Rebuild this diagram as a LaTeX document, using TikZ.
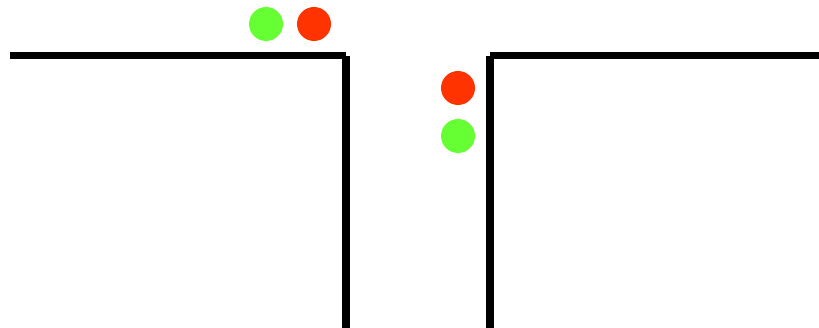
\documentclass[tikz,border=0pt]{standalone}
\usepackage{tikz}

\definecolor{lampgreen}{HTML}{66FF33}
\definecolor{lampred}{HTML}{FF3300}

\begin{document}
\begin{tikzpicture}[x=1pt, y=-1pt,
  wall/.style={line width=7.5pt, black},
  lamp/.style={circle, inner sep=0pt, minimum size=34pt},
  greenlamp/.style={lamp, fill=lampgreen},
  redlamp/.style={lamp, fill=lampred}]
\useasboundingbox (0,0) rectangle (819,328);

\draw[wall] (10,55.5) -- (346,55.5);
\draw[wall] (346,56) -- (346,328);
\draw[wall] (490,55.5) -- (819,55.5);
\draw[wall] (490,56) -- (490,328);

\node[greenlamp] (topgreen) at (266,24) {};
\node[redlamp] (topred) at (314,24) {};
\node[redlamp] (sidered) at (458,88) {};
\node[greenlamp] (sidegreen) at (458,136) {};
\end{tikzpicture}
\end{document}
